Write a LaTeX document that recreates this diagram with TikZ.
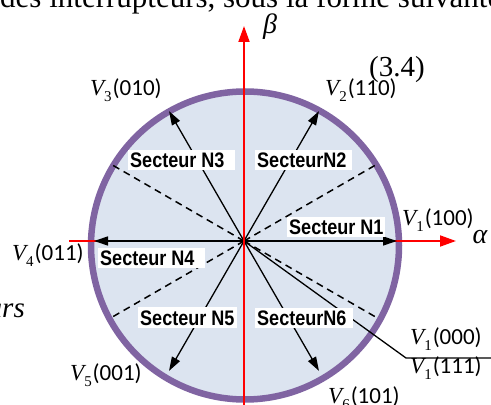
\documentclass[tikz,border=0pt]{standalone}
\usepackage{fontspec}
\newfontfamily\serifface{Liberation Serif}
\newfontfamily\labface{Carlito}
\newfontfamily\secface[FakeStretch=0.86]{Liberation Sans}
\usetikzlibrary{arrows.meta}
\definecolor{circfill}{HTML}{DCE4F0}
\definecolor{circline}{HTML}{8064A2}
\newcommand{\Vsub}[1]{{\serifface\itshape V}\raisebox{-0.22em}{\serifface\fontsize{15}{15}\selectfont #1}\hspace{1pt}}
\newcommand{\secbx}[2]{\makebox[#1][l]{#2}}
\begin{document}
\begin{tikzpicture}[x=1pt,y=1pt,
  redaxis/.style={red, line width=1.8pt, -{Triangle[length=16pt,width=11pt]}},
  vecarrow/.style={black, line width=1.3pt, -{Triangle[length=14pt,width=9pt]}},
  plainline/.style={black, line width=1.3pt},
  sectorline/.style={black, line width=1.5pt, dash pattern=on 7pt off 5pt},
  secbox/.style={fill=white, inner xsep=2pt, inner ysep=2.5pt, text height=15.5pt, text depth=0pt, anchor=west, font=\secface\bfseries\fontsize{21}{24}\selectfont},
  vlab/.style={inner sep=0pt, anchor=base west, font=\labface\fontsize{23}{27}\selectfont},
  seriftext/.style={inner sep=0pt, font=\serifface\fontsize{29}{34}\selectfont},
  greek/.style={inner sep=0pt, font=\serifface\itshape\fontsize{28}{32}\selectfont},
]
\useasboundingbox (0,0) rectangle (491,405);
% circle
\node[circle, draw=circline, fill=circfill, line width=6.5pt, minimum size=308pt, inner sep=0pt] (C) at (245,159.5) {};
\coordinate (O) at (244,164);
% sector boundaries
\coordinate (D1) at (376.5,240.5);
\coordinate (D2) at (111.5,240.5);
\coordinate (D3) at (111.5,87.5);
\coordinate (D4) at (376.5,87.5);
\foreach \d in {D1,D2,D3,D4} \draw[sectorline] (O) -- (\d);
% horizontal axis
\coordinate (AL) at (69,164);
\coordinate (AR) at (456,164);
\draw[redaxis] (AL) -- (AR);
% vectors
\coordinate (T1) at (397,164);
\coordinate (T2) at (319,293.9);
\coordinate (T3) at (169,293.9);
\coordinate (T4) at (94,164);
\coordinate (T5) at (169,34.1);
\coordinate (T6) at (319,34.1);
\foreach \t in {T1,T2,T3,T4,T5,T6} \draw[vecarrow] (O) -- (\t);
% zero vector leader
\coordinate (E1) at (406,47);
\coordinate (E2) at (491,47);
\draw[plainline] (O) -- (E1) -- (E2);
% vertical axis
\coordinate (AB) at (244,0);
\coordinate (AT) at (244,379);
\draw[redaxis] (AB) -- (AT);
% sector labels
\node[secbox] (S1) at (287,178) {\secbx{94pt}{Secteur N1}};
\node[secbox] (S2) at (255,245) {\secbx{93pt}{SecteurN2}};
\node[secbox] (S3) at (128,245) {\secbx{103pt}{Secteur N3}};
\node[secbox] (S4) at (98,147) {\secbx{103pt}{Secteur N4}};
\node[secbox] (S5) at (138,87.5) {\secbx{95pt}{Secteur N5}};
\node[secbox] (S6) at (255,87) {\secbx{94pt}{SecteurN6}};
% vector labels
\node[vlab] (L1) at (402,179) {\Vsub{1}(100)};
\node[vlab] (L2) at (325,309) {\Vsub{2}(110)};
\node[vlab] (L3) at (90,309) {\Vsub{3}(010)};
\node[vlab] (L4) at (12,144) {\Vsub{4}(011)};
\node[vlab] (L5) at (70,24) {\Vsub{5}(001)};
\node[vlab] (L6) at (328,1) {\Vsub{6}(101)};
\node[vlab] (L0) at (410,60) {\Vsub{1}(000)};
\node[vlab] (L7) at (410,31) {\Vsub{1}(111)};
% axis names
\node[greek] (beta) at (270,378) {β};
\node[greek] (alpha) at (480,168) {α};
% surrounding page text
\node[seriftext, anchor=base west] (eq) at (369,328) {(3.4)};
\node[seriftext, anchor=base east] (urs) at (25,87) {\itshape urs};
\node[seriftext, anchor=base west, font=\serifface\fontsize{31}{36}\selectfont] (top) at (0,397) {des interrupteurs, sous la forme suivante};
\end{tikzpicture}
\end{document}
